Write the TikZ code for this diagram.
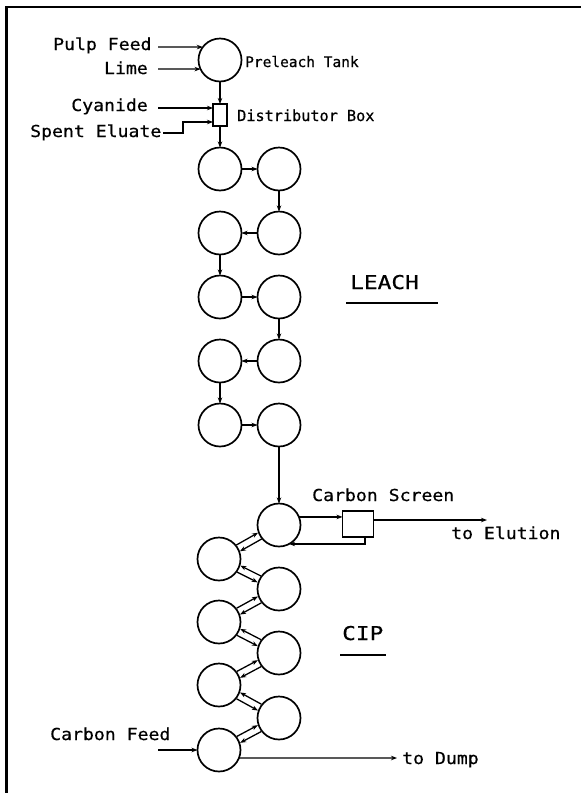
\documentclass[tikz,border=0pt]{standalone}
\usepackage{fontspec}
\usetikzlibrary{calc,arrows.meta}
\newfontfamily\plotfont{DejaVu Sans Mono}[FakeStretch=1.1,FakeBold=0.6]
\newfontfamily\plotnarrow{DejaVu Sans Mono}[FakeBold=0.6]
\newfontfamily\plotcaps{DejaVu Sans Mono}[FakeStretch=1.2,FakeBold=0.6]

% two counter-current lines between neighbouring CIP tanks
% #1 left tank, #2 right tank, #3 tips of upper line, #4 tips of lower line
\newcommand\cipjoin[4]{%
  \draw[cipline,#3] ($(#1)!3.6pt!90:(#2)$) -- ($(#2)!3.6pt!-90:(#1)$);
  \draw[cipline,#4] ($(#1)!3.6pt!-90:(#2)$) -- ($(#2)!3.6pt!90:(#1)$);
}

\begin{document}
\begin{tikzpicture}[x=1pt,y=-1pt,
  tank/.style={circle,draw,line width=1.7pt,minimum size=43pt,inner sep=0pt,outer sep=0pt},
  unitbox/.style={rectangle,draw,line width=1.4pt,inner sep=0pt,outer sep=0pt},
  tip/.style={-{Stealth[length=6pt,width=4.5pt]}},
  flow/.style={line width=1.2pt,tip},
  cipline/.style={line width=1.3pt,shorten >=22pt,shorten <=22pt,>={Stealth[length=6pt,width=4.5pt]}},
  txt/.style={font=\plotfont\fontsize{16.5}{18}\selectfont,inner sep=0pt,anchor=base west},
  smalltxt/.style={txt,font=\plotnarrow\fontsize{14.5}{16}\selectfont},
  midtxt/.style={txt,font=\plotnarrow\fontsize{15.2}{17}\selectfont},
  captxt/.style={font=\plotcaps\fontsize{19}{21}\selectfont,inner sep=0pt,anchor=base west}
]
\useasboundingbox (0,0) rectangle (581,793);

% frame
\draw[line width=2.6pt] (6.5,793) -- (6.5,7) -- (581,7);

% preleach and distributor
\node[tank] (pre) at (220,60) {};
\node[unitbox,minimum width=14pt,minimum height=22pt] (dbox) at (220,115) {};

% leach tanks, serpentine order
\node[tank] (t1) at (220,169) {};
\node[tank] (t2) at (279,169) {};
\node[tank] (t3) at (279,233) {};
\node[tank] (t4) at (220,233) {};
\node[tank] (t5) at (220,297) {};
\node[tank] (t6) at (279,297) {};
\node[tank] (t7) at (279,361) {};
\node[tank] (t8) at (220,361) {};
\node[tank] (t9) at (220,425) {};
\node[tank] (t10) at (279,425) {};

% CIP tanks, zig-zag order
\node[tank] (c1) at (279,525) {};
\node[tank] (c2) at (219,559) {};
\node[tank] (c3) at (279,589) {};
\node[tank] (c4) at (219,622) {};
\node[tank] (c5) at (279,653) {};
\node[tank] (c6) at (219,685) {};
\node[tank] (c7) at (279,718) {};
\node[tank] (c8) at (219,750) {};

% carbon screen
\node[unitbox,minimum width=31pt,minimum height=26pt] (cs) at (358,524) {};

% labels
\node[txt] (pulp) at (53,50) {Pulp Feed};
\node[txt,anchor=base east] (lime) at (148,74) {Lime};
\node[txt,anchor=base east] (cyan) at (148,111) {Cyanide};
\node[txt] (spent) at (30,137) {Spent Eluate};
\node[smalltxt] (pretxt) at (245,67) {Preleach Tank};
\node[midtxt] (dbtxt) at (237,121) {Distributor Box};
\node[txt] (cstxt) at (312,501) {Carbon Screen};
\node[txt] (elutxt) at (451,539) {to Elution};
\node[txt] (cftxt) at (50,740) {Carbon Feed};
\node[txt] (dumptxt) at (402,764) {to Dump};
\node[captxt] (leach) at (350,289) {LEACH};
\node[captxt] (cip) at (342,640) {CIP};
\draw[line width=1.2pt] (346,303) -- (438,303);
\draw[line width=1.2pt] (340,655) -- (386,655);

% feed lines
\coordinate (pfin) at (158,47);
\coordinate (limein) at (158,69);
\coordinate (cyin) at (158,108);
\coordinate (spin) at (163,133);
\coordinate (spbend) at (183,133);
\draw[flow] (pfin) -- (pre.143);
\draw[flow] (limein) -- (pre.205);
\draw[flow] (cyin) -- (cyin -| dbox.west);
\draw[flow] (spin) -- (spbend) |- ($(dbox.west)+(0,7)$);
\draw[flow] (pre) -- (dbox);
\draw[flow] (dbox) -- (t1);

% leach train
\draw[flow] (t1) -- (t2);
\draw[flow] (t2) -- (t3);
\draw[flow] (t3) -- (t4);
\draw[flow] (t4) -- (t5);
\draw[flow] (t5) -- (t6);
\draw[flow] (t6) -- (t7);
\draw[flow] (t7) -- (t8);
\draw[flow] (t8) -- (t9);
\draw[flow] (t9) -- (t10);
\draw[flow] (t10) -- (c1);

% CIP train: pulp down, carbon up
\cipjoin{c2}{c1}{->}{<-}
\cipjoin{c2}{c3}{<-}{->}
\cipjoin{c4}{c3}{->}{<-}
\cipjoin{c4}{c5}{<-}{->}
\cipjoin{c6}{c5}{->}{<-}
\cipjoin{c6}{c7}{<-}{->}
\cipjoin{c8}{c7}{->}{<-}

% carbon screen loop
\coordinate (eluend) at (487,520);
\draw[flow] (c1.22) -- (c1.22 -| cs.west);
\draw[flow] ([xshift=7pt]cs.south) |- (c1.-62);
\draw[flow] (cs.east |- eluend) -- (eluend);

% carbon feed and tails
\coordinate (cfin) at (158,750);
\coordinate (dumpend) at (397,758);
\draw[flow] (cfin) -- (c8);
\draw[flow] (c8.-22) -- (dumpend);
\end{tikzpicture}
\end{document}
